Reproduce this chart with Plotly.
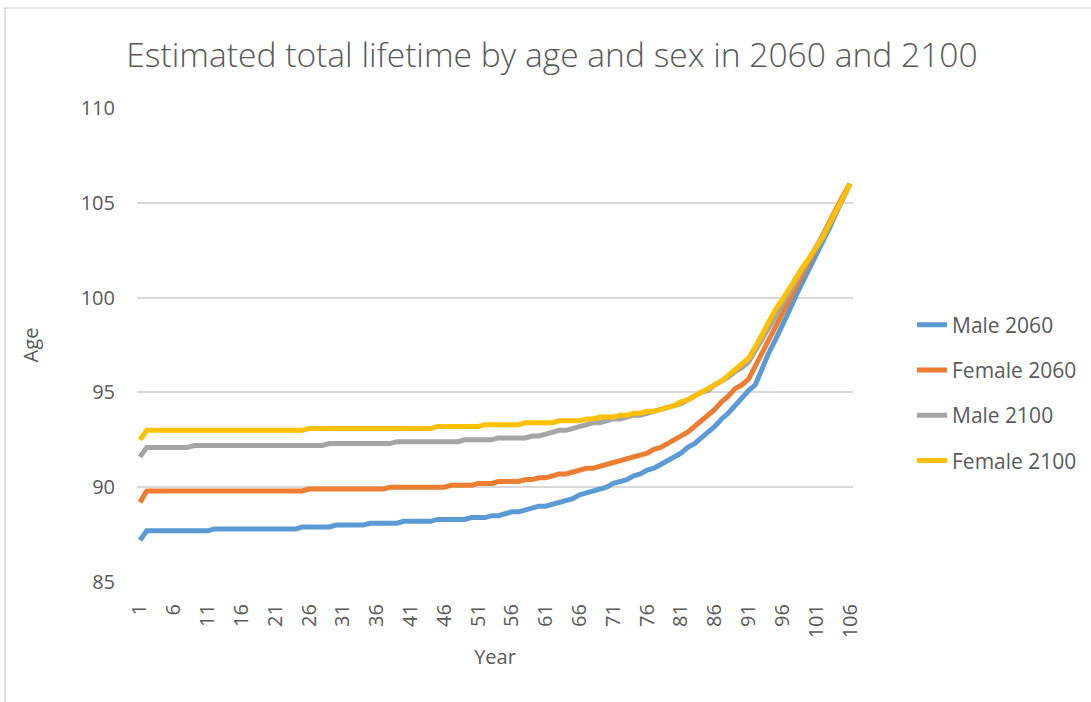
import plotly.graph_objects as go

years = list(range(1, 107))

male_2060 = [
    87.2, 87.7, 87.7, 87.7, 87.7, 87.7, 87.7, 87.7, 87.7, 87.7,
    87.7, 87.8, 87.8, 87.8, 87.8, 87.8, 87.8, 87.8, 87.8, 87.8,
    87.8, 87.8, 87.8, 87.8, 87.9, 87.9, 87.9, 87.9, 87.9, 88.0,
    88.0, 88.0, 88.0, 88.0, 88.1, 88.1, 88.1, 88.1, 88.1, 88.2,
    88.2, 88.2, 88.2, 88.2, 88.3, 88.3, 88.3, 88.3, 88.3, 88.4,
    88.4, 88.4, 88.5, 88.5, 88.6, 88.7, 88.7, 88.8, 88.9, 89.0,
    89.0, 89.1, 89.2, 89.3, 89.4, 89.6, 89.7, 89.8, 89.9, 90.0,
    90.2, 90.3, 90.4, 90.6, 90.7, 90.9, 91.0, 91.2, 91.4, 91.6,
    91.8, 92.1, 92.3, 92.6, 92.9, 93.2, 93.6, 93.9, 94.3, 94.7,
    95.1, 95.4, 96.3, 97.1, 97.8, 98.5, 99.3, 100.1, 100.8, 101.6,
    102.3, 103.0, 103.7, 104.5, 105.2, 106.0,
]

female_2060 = [
    89.2, 89.8, 89.8, 89.8, 89.8, 89.8, 89.8, 89.8, 89.8, 89.8,
    89.8, 89.8, 89.8, 89.8, 89.8, 89.8, 89.8, 89.8, 89.8, 89.8,
    89.8, 89.8, 89.8, 89.8, 89.8, 89.9, 89.9, 89.9, 89.9, 89.9,
    89.9, 89.9, 89.9, 89.9, 89.9, 89.9, 89.9, 90.0, 90.0, 90.0,
    90.0, 90.0, 90.0, 90.0, 90.0, 90.0, 90.1, 90.1, 90.1, 90.1,
    90.2, 90.2, 90.2, 90.3, 90.3, 90.3, 90.3, 90.4, 90.4, 90.5,
    90.5, 90.6, 90.7, 90.7, 90.8, 90.9, 91.0, 91.0, 91.1, 91.2,
    91.3, 91.4, 91.5, 91.6, 91.7, 91.8, 92.0, 92.1, 92.3, 92.5,
    92.7, 92.9, 93.2, 93.5, 93.8, 94.1, 94.5, 94.8, 95.2, 95.4,
    95.7, 96.4, 97.1, 97.8, 98.4, 99.1, 99.8, 100.5, 101.3, 102.0,
    102.7, 103.4, 104.0, 104.7, 105.4, 106.0,
]

male_2100 = [
    91.6, 92.1, 92.1, 92.1, 92.1, 92.1, 92.1, 92.1, 92.2, 92.2,
    92.2, 92.2, 92.2, 92.2, 92.2, 92.2, 92.2, 92.2, 92.2, 92.2,
    92.2, 92.2, 92.2, 92.2, 92.2, 92.2, 92.2, 92.2, 92.3, 92.3,
    92.3, 92.3, 92.3, 92.3, 92.3, 92.3, 92.3, 92.3, 92.4, 92.4,
    92.4, 92.4, 92.4, 92.4, 92.4, 92.4, 92.4, 92.4, 92.5, 92.5,
    92.5, 92.5, 92.5, 92.6, 92.6, 92.6, 92.6, 92.6, 92.7, 92.7,
    92.8, 92.9, 93.0, 93.0, 93.1, 93.2, 93.3, 93.4, 93.4, 93.5,
    93.6, 93.6, 93.7, 93.8, 93.8, 93.9, 94.0, 94.1, 94.2, 94.3,
    94.4, 94.6, 94.8, 95.0, 95.1, 95.4, 95.6, 95.8, 96.1, 96.3,
    96.6, 97.2, 97.9, 98.5, 99.1, 99.7, 100.3, 100.9, 101.5, 102.1,
    102.6, 103.2, 103.9, 104.6, 105.3, 106.0,
]

female_2100 = [
    92.5, 93.0, 93.0, 93.0, 93.0, 93.0, 93.0, 93.0, 93.0, 93.0,
    93.0, 93.0, 93.0, 93.0, 93.0, 93.0, 93.0, 93.0, 93.0, 93.0,
    93.0, 93.0, 93.0, 93.0, 93.0, 93.1, 93.1, 93.1, 93.1, 93.1,
    93.1, 93.1, 93.1, 93.1, 93.1, 93.1, 93.1, 93.1, 93.1, 93.1,
    93.1, 93.1, 93.1, 93.1, 93.2, 93.2, 93.2, 93.2, 93.2, 93.2,
    93.2, 93.3, 93.3, 93.3, 93.3, 93.3, 93.3, 93.4, 93.4, 93.4,
    93.4, 93.4, 93.5, 93.5, 93.5, 93.5, 93.6, 93.6, 93.7, 93.7,
    93.7, 93.8, 93.8, 93.9, 93.9, 94.0, 94.0, 94.1, 94.2, 94.3,
    94.5, 94.6, 94.8, 95.0, 95.2, 95.4, 95.6, 95.9, 96.2, 96.5,
    96.8, 97.4, 98.1, 98.8, 99.4, 99.9, 100.5, 101.1, 101.6, 102.1,
    102.6, 103.2, 103.9, 104.6, 105.3, 106.0,
]

series_names = ["Male 2060", "Female 2060", "Male 2100", "Female 2100"]
series_values = [male_2060, female_2060, male_2100, female_2100]
series_colors = ["#5B9BD5", "#ED7D31", "#A5A5A5", "#FFC000"]

title_text = "Estimated total lifetime by age and sex in 2060 and 2100"
x_title = "Year"
y_title = "Age"
y_ticks = [85, 90, 95, 100, 105, 110]
x_ticks = list(range(1, 107, 5))

TEXT = "#595959"
GRID = "#D9D9D9"
FONT = "Open Sans"

W, H = 1091, 702
L, R, T, B = 137, 238, 108, 120
PW = W - L - R
PH = H - T - B

fig = go.Figure()
for i, (name, vals, col) in enumerate(zip(series_names, series_values, series_colors)):
    fig.add_trace(go.Scatter(
        x=years, y=vals, name=name, mode="lines",
        line=dict(color=col, width=5, shape="linear"),
        legendgroup=f"g{i}",
    ))

def px_x(p):
    return (p - L) / PW

def px_y(p):
    return (H - B - p) / PH

fig.update_layout(
    width=W, height=H,
    margin=dict(l=L, r=R, t=T, b=B, autoexpand=False),
    paper_bgcolor="white", plot_bgcolor="white",
    font=dict(family=FONT, color=TEXT, size=20),
    title=dict(text=title_text, x=552 / W, xanchor="center",
               y=1 - 55 / H, yanchor="middle",
               font=dict(family=FONT, size=33.6, color=TEXT, weight=300)),
    showlegend=True,
    legend=dict(x=px_x(912), xanchor="left", y=px_y(393), yanchor="middle",
                font=dict(family=FONT, size=21, color=TEXT),
                tracegroupgap=15, bgcolor="rgba(0,0,0,0)"),
    xaxis=dict(range=[0.56, 106.44], tickmode="array", tickvals=x_ticks,
               ticktext=[str(v) for v in x_ticks], tickangle=-90,
               showgrid=False, zeroline=False, showline=False, ticks="",
               ticklabelstandoff=17,
               tickfont=dict(family=FONT, size=20, color=TEXT),
               title=dict(text=x_title, font=dict(family=FONT, size=20, color=TEXT), standoff=12)),
    yaxis=dict(range=[85, 110], tickmode="array", tickvals=y_ticks,
               showgrid=True, gridcolor=GRID, gridwidth=1.5, zeroline=False,
               showline=False, ticks="", ticklabelstandoff=21,
               tickfont=dict(family=FONT, size=20, color=TEXT),
               title=dict(text=y_title, font=dict(family=FONT, size=20, color=TEXT), standoff=36)),
    shapes=[dict(type="rect", xref="paper", yref="paper",
                 x0=px_x(5), x1=px_x(1100), y0=px_y(712), y1=px_y(8),
                 line=dict(color=GRID, width=1.5), fillcolor="rgba(0,0,0,0)", layer="below")],
)

fig.write_html("out.html")
